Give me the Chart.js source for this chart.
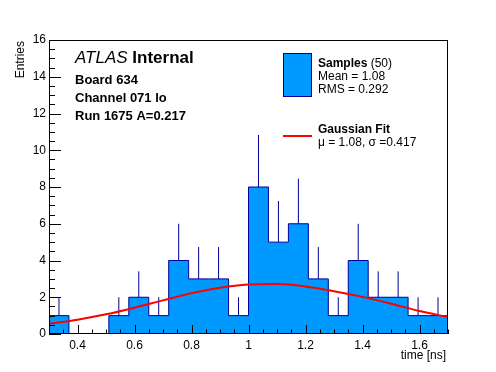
<!DOCTYPE html>
<html>
<head>
<meta charset="utf-8">
<script src="https://cdn.jsdelivr.net/npm/chart.js@4.4.1/dist/chart.umd.min.js"></script>
<style>
  html, body { margin: 0; padding: 0; background: #fff; }
  #wrap { width: 496px; height: 372px; }
</style>
</head>
<body>
<div id="wrap"><canvas id="timeChart" width="496" height="372"></canvas></div>
<script>
// histogram bins (time in ns) and contents
const binEdges = [0.30, 0.37, 0.44, 0.51, 0.58, 0.65, 0.72, 0.79, 0.86, 0.93, 1.00,
                  1.07, 1.14, 1.21, 1.28, 1.35, 1.42, 1.49, 1.56, 1.63, 1.70];
const counts = [1, 0, 0, 1, 2, 1, 4, 3, 3, 1, 8, 5, 6, 3, 1, 4, 2, 2, 1, 1];
const errors = [1, 0, 0, 1, 1.41, 1, 2, 1.73, 1.73, 1, 2.83, 2.24, 2.45, 1.73, 1, 2, 1.41, 1.41, 1, 1];

// gaussian fit curve
const fitX = [0.3, 0.4, 0.5, 0.6, 0.7, 0.8, 0.9, 1.0, 1.1, 1.2, 1.3, 1.4, 1.5, 1.6, 1.7];
const fitY = [0.56, 0.78, 1.07, 1.43, 1.83, 2.22, 2.52, 2.69, 2.72, 2.59, 2.33, 2.02, 1.65, 1.25, 0.92];

const xTicks = [0.4, 0.6, 0.8, 1.0, 1.2, 1.4, 1.6];
const yTicks = [0, 2, 4, 6, 8, 10, 12, 14, 16];

const FONT = "'Liberation Sans', Arial, Helvetica, sans-serif";
const FILL = '#0099ff';
const LINE = '#000099';

// step outline for the histogram
const histPoints = [{ x: binEdges[0], y: 0 }];
counts.forEach((c, i) => histPoints.push({ x: binEdges[i], y: c }));
histPoints.push({ x: binEdges[binEdges.length - 1], y: counts[counts.length - 1] });
histPoints.push({ x: binEdges[binEdges.length - 1], y: 0 });

// error bars: only the part above the bar is visible
const errPoints = [];
counts.forEach((c, i) => {
    if (!errors[i]) return;
    const xc = (binEdges[i] + binEdges[i + 1]) / 2;
    errPoints.push({ x: xc, y: c }, { x: xc, y: c + errors[i] }, { x: xc, y: null });
});

const fitPoints = fitX.map((x, i) => ({ x: x, y: fitY[i] }));

// ROOT style frame with inward ticks
const framePlugin = {
    id: 'frame',
    afterDatasetsDraw(chart) {
        const ctx = chart.ctx;
        const a = chart.chartArea;
        const xs = chart.scales.x, ys = chart.scales.y;
        ctx.save();
        ctx.strokeStyle = '#000';
        ctx.lineWidth = 1;
        ctx.beginPath();
        // x ticks
        for (let k = 0; k <= 28; k++) {
            const v = 0.3 + k * 0.05;
            const major = xTicks.some(t => Math.abs(t - v) < 1e-6);
            const px = Math.round(xs.getPixelForValue(v)) + 0.5;
            const len = major ? 9 : 4.5;
            ctx.moveTo(px, a.bottom);
            ctx.lineTo(px, a.bottom - len);
        }
        // y ticks
        for (let k = 0; k <= 32; k++) {
            const v = k * 0.5;
            const major = yTicks.includes(v);
            const py = Math.round(ys.getPixelForValue(v)) + 0.5;
            const len = major ? 12 : 6;
            ctx.moveTo(a.left, py);
            ctx.lineTo(a.left + len, py);
        }
        ctx.stroke();
        ctx.strokeRect(Math.round(a.left) + 0.5, Math.round(a.top) + 0.5,
                       Math.round(a.right - a.left) - 1, Math.round(a.bottom - a.top) - 1);
        ctx.restore();
    },
    afterDraw(chart) {
        const ctx = chart.ctx;
        ctx.save();
        ctx.fillStyle = '#000';
        ctx.textBaseline = 'alphabetic';

        // axis titles
        ctx.font = '12px ' + FONT;
        ctx.textAlign = 'right';
        ctx.fillText('time [ns]', 446, 359);
        ctx.save();
        ctx.translate(24, 41);
        ctx.rotate(-Math.PI / 2);
        ctx.textAlign = 'right';
        ctx.fillText('Entries', 0, 0);
        ctx.restore();

        // ATLAS label block
        ctx.textAlign = 'left';
        ctx.font = 'italic 17px ' + FONT;
        ctx.fillText('ATLAS', 75, 63);
        const w = ctx.measureText('ATLAS ').width;
        ctx.font = 'bold 17px ' + FONT;
        ctx.fillText('Internal', 75 + w, 63);
        ctx.font = 'bold 13px ' + FONT;
        ctx.fillText('Board 634', 75, 84);
        ctx.fillText('Channel 071 lo', 75, 102);
        ctx.fillText('Run 1675 A=0.217', 75, 120);

        // legend
        ctx.fillStyle = FILL;
        ctx.fillRect(283, 53, 29, 44);
        ctx.strokeStyle = LINE;
        ctx.lineWidth = 1;
        ctx.strokeRect(283.5, 53.5, 28, 43);
        ctx.strokeStyle = '#ff0000';
        ctx.lineWidth = 2;
        ctx.beginPath();
        ctx.moveTo(283, 136);
        ctx.lineTo(312, 136);
        ctx.stroke();

        ctx.fillStyle = '#000';
        ctx.font = 'bold 12px ' + FONT;
        ctx.fillText('Samples', 318, 67);
        const sw = ctx.measureText('Samples').width;
        ctx.font = '12px ' + FONT;
        ctx.fillText(' (50)', 318 + sw, 67);
        ctx.fillText('Mean = 1.08', 318, 80);
        ctx.fillText('RMS = 0.292', 318, 93);
        ctx.font = 'bold 12px ' + FONT;
        ctx.fillText('Gaussian Fit', 318, 133);
        ctx.font = '12px ' + FONT;
        ctx.fillText('\u03bc = 1.08, \u03c3 =0.417', 318, 146);
        ctx.restore();
    }
};

new Chart(document.getElementById('timeChart').getContext('2d'), {
    type: 'line',
    data: {
        datasets: [
            {
                label: 'Samples',
                data: histPoints,
                stepped: 'before',
                borderColor: LINE,
                borderWidth: 1,
                backgroundColor: FILL,
                fill: 'origin',
                pointRadius: 0,
                order: 3
            },
            {
                label: 'errors',
                data: errPoints,
                borderColor: LINE,
                borderWidth: 1,
                fill: false,
                spanGaps: false,
                pointRadius: 0,
                order: 2
            },
            {
                label: 'Gaussian Fit',
                data: fitPoints,
                borderColor: '#ff0000',
                borderWidth: 2,
                fill: false,
                cubicInterpolationMode: 'monotone',
                pointRadius: 0,
                order: 1
            }
        ]
    },
    options: {
        responsive: false,
        animation: false,
        devicePixelRatio: 1,
        layout: { padding: { top: 40, right: 48, left: 0, bottom: 0 } },
        plugins: {
            legend: { display: false },
            tooltip: { enabled: false }
        },
        scales: {
            x: {
                type: 'linear',
                min: 0.3,
                max: 1.7,
                grid: { display: false, drawTicks: false },
                border: { display: false },
                afterBuildTicks: s => { s.ticks = xTicks.map(v => ({ value: v })); },
                afterFit: s => { s.height = 38; },
                ticks: {
                    includeBounds: false,
                    autoSkip: false,
                    maxRotation: 0,
                    padding: 4,
                    color: '#000',
                    font: { family: FONT, size: 12 },
                    callback: v => String(Number(v.toFixed(2)))
                }
            },
            y: {
                type: 'linear',
                min: 0,
                max: 16,
                grid: { display: false, drawTicks: false },
                border: { display: false },
                afterBuildTicks: s => { s.ticks = yTicks.map(v => ({ value: v })); },
                afterFit: s => { s.width = 49; },
                ticks: {
                    autoSkip: false,
                    padding: 3,
                    color: '#000',
                    font: { family: FONT, size: 12 },
                    callback: v => String(v)
                }
            }
        }
    },
    plugins: [framePlugin]
});
</script>
</body>
</html>
